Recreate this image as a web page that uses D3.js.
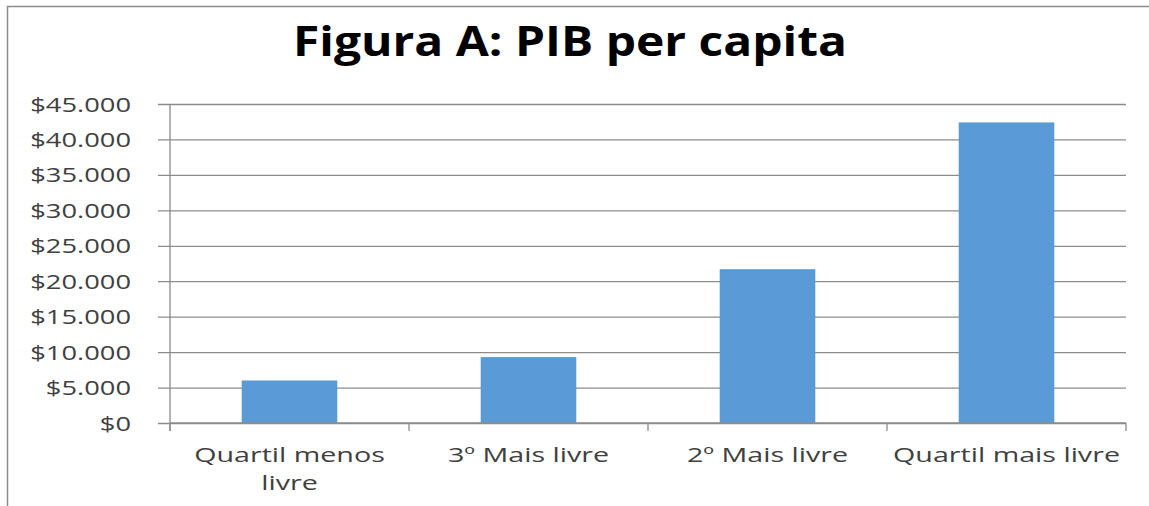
<!DOCTYPE html>
<html>
<head>
<meta charset="utf-8">
<script src="https://cdn.jsdelivr.net/npm/d3@7"></script>
<style>
    body { margin: 0; background: #fff; }
    svg { display: block; }
</style>
</head>
<body>
<div id="chart"></div>
<script>
// Figura A: PIB per capita
var categories = ['Quartil menos livre', '3º Mais livre', '2º Mais livre', 'Quartil mais livre'];
var values = [6000, 9300, 21700, 42400];
var yTicks = [0, 5000, 10000, 15000, 20000, 25000, 30000, 35000, 40000, 45000];
var titleText = 'Figura A: PIB per capita';

const width = 1149;
const height = 506;
const margin = { top: 104, right: 23, bottom: 83, left: 170 };
const sx = 1.4;     // tick labels are stretched sideways in the picture
const sxCat = 1.47; // category labels a bit more
const fontFamily = '"Open Sans", sans-serif';

const svg = d3.select('#chart')
    .append('svg')
    .attr('width', width)
    .attr('height', height);

// outer frame (only top and left edges show)
svg.append('path')
    .attr('d', 'M7.5,' + height + 'V6.5H' + width)
    .attr('fill', 'none')
    .attr('stroke', '#8c8c8c')
    .attr('stroke-width', 1.5);

// title, fitted to the width it has in the picture
svg.append('text')
    .attr('x', 570)
    .attr('y', 56)
    .attr('text-anchor', 'middle')
    .attr('font-family', fontFamily)
    .attr('font-weight', 700)
    .attr('font-size', 42)
    .attr('fill', '#000')
    .attr('textLength', 554)
    .attr('lengthAdjust', 'spacingAndGlyphs')
    .text(titleText);

const x = d3.scaleBand()
    .domain(categories)
    .range([margin.left, width - margin.right])
    .paddingInner(0.6)
    .paddingOuter(0.3);

const y = d3.scaleLinear()
    .domain([0, 45000])
    .range([height - margin.bottom, margin.top]);

const fmt = v => '$' + d3.format(',')(v).replace(/,/g, '.');

// y axis with gridlines
const yAxis = svg.append('g')
    .attr('transform', 'translate(' + margin.left + ',0)')
    .call(d3.axisLeft(y)
        .tickValues(yTicks)
        .tickFormat(fmt)
        .tickSize(-(width - margin.left - margin.right))
        .tickSizeOuter(0));

yAxis.select('.domain').remove();
yAxis.selectAll('.tick line')
    .attr('x1', -12)
    .attr('stroke', '#8c8c8c')
    .attr('stroke-width', 1.3);
yAxis.selectAll('.tick text')
    .attr('x', 0)
    .attr('dy', '0.36em')
    .attr('transform', 'translate(-39,0) scale(' + sx + ',1)')
    .attr('font-family', fontFamily)
    .attr('font-size', 19.5)
    .attr('fill', '#404040');

// vertical axis line
svg.append('line')
    .attr('x1', margin.left).attr('x2', margin.left)
    .attr('y1', y(45000)).attr('y2', y(0) + 8)
    .attr('stroke', '#8c8c8c')
    .attr('stroke-width', 1.3);

// bars
svg.append('g')
    .selectAll('rect')
    .data(values)
    .enter()
    .append('rect')
    .attr('x', (d, i) => x(categories[i]))
    .attr('y', d => y(d))
    .attr('width', x.bandwidth())
    .attr('height', d => y(0) - y(d))
    .attr('fill', '#5b9bd5');

// x axis: baseline and tick marks between categories
const step = x.step();
const x0 = margin.left;
const xAxis = svg.append('g')
    .attr('transform', 'translate(0,' + y(0) + ')');

xAxis.append('line')
    .attr('x1', x0).attr('x2', width - margin.right)
    .attr('stroke', '#8c8c8c')
    .attr('stroke-width', 1.3);

xAxis.selectAll('.sep')
    .data(d3.range(categories.length + 1))
    .enter()
    .append('line')
    .attr('class', 'sep')
    .attr('x1', i => x0 + i * step).attr('x2', i => x0 + i * step)
    .attr('y1', 0).attr('y2', 8)
    .attr('stroke', '#8c8c8c')
    .attr('stroke-width', 1.3);

// category labels, wrapped when wider than the band
const labels = xAxis.selectAll('.cat')
    .data(categories)
    .enter()
    .append('text')
    .attr('class', 'cat')
    .attr('text-anchor', 'middle')
    .attr('font-family', fontFamily)
    .attr('font-size', 19.5)
    .attr('fill', '#404040')
    .attr('transform', d => 'translate(' + (x(d) + x.bandwidth() / 2) + ',39) scale(' + sxCat + ',1)');

labels.each(function(d) {
    const t = d3.select(this);
    const words = d.split(' ');
    let line = [];
    let lines = [];
    const probe = t.append('tspan');
    words.forEach(w => {
        const test = line.concat(w).join(' ');
        probe.text(test);
        if (probe.node().getComputedTextLength() * sxCat > step - 6 && line.length) {
            lines.push(line.join(' '));
            line = [w];
        } else {
            line.push(w);
        }
    });
    lines.push(line.join(' '));
    probe.remove();
    lines.forEach((l, i) => {
        t.append('tspan')
            .attr('x', 0)
            .attr('y', i * 28)
            .text(l);
    });
});
</script>
</body>
</html>
